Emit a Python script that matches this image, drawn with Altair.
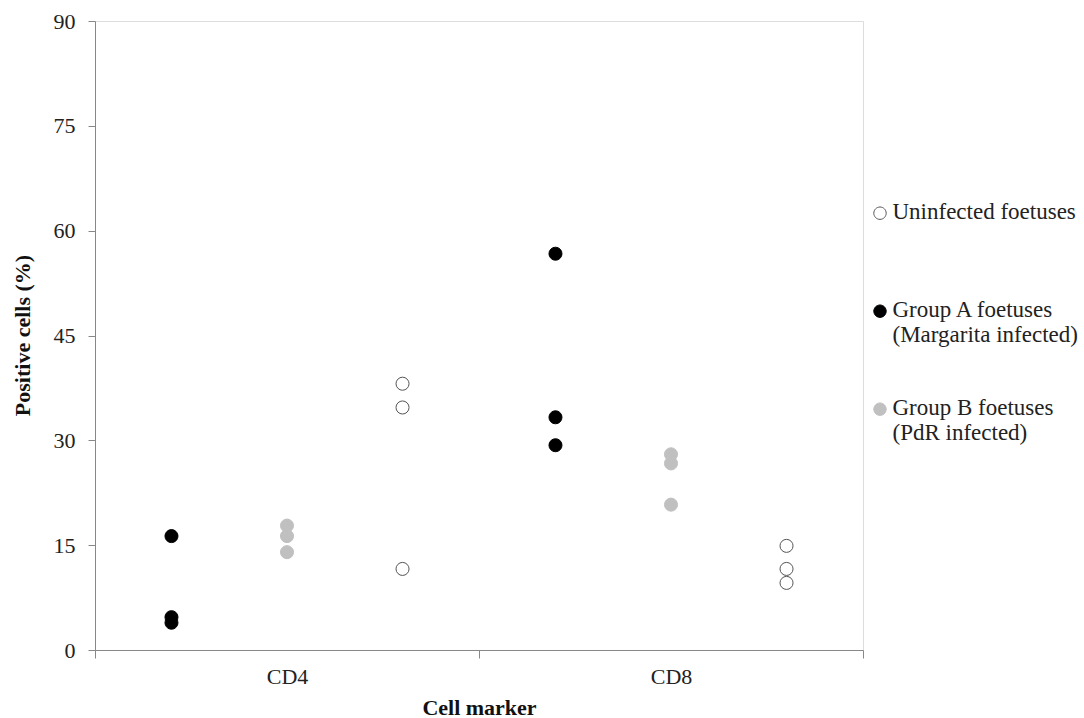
import altair as alt
import pandas as pd

# ---- data ----
markers = ["CD4", "CD8"]
groups = [
    "Group A foetuses (Margarita infected)",
    "Group B foetuses (PdR infected)",
    "Uninfected foetuses",
]
legend_order = [
    "Uninfected foetuses",
    "Group A foetuses (Margarita infected)",
    "Group B foetuses (PdR infected)",
]
fill_colors = ["#ffffff", "#000000", "#c0c0c0"]
stroke_colors = ["#555555", "#000000", "#c0c0c0"]

cd4_group_a = [16.3, 4.7, 3.9]
cd4_group_b = [17.8, 16.3, 14.0]
cd4_uninfected = [38.1, 34.7, 11.6]
cd8_group_a = [56.7, 33.3, 29.3]
cd8_group_b = [28.0, 26.7, 20.8]
cd8_uninfected = [14.9, 11.6, 9.6]

y_ticks = [0, 15, 30, 45, 60, 75, 90]

series = {
    ("CD4", groups[0]): cd4_group_a,
    ("CD4", groups[1]): cd4_group_b,
    ("CD4", groups[2]): cd4_uninfected,
    ("CD8", groups[0]): cd8_group_a,
    ("CD8", groups[1]): cd8_group_b,
    ("CD8", groups[2]): cd8_uninfected,
}
rows = []
for (m, g), vals in series.items():
    for v in vals:
        rows.append({"marker": m, "group": g, "value": v})
df = pd.DataFrame(rows)

FONT = "Liberation Serif"

# legend circle, drawn slightly raised so it sits level with the first text line
LEGEND_SYMBOL = "M -1.13,-0.97 A 1.13,1.13 0 1 0 1.13,-0.97 A 1.13,1.13 0 1 0 -1.13,-0.97 Z"

legend_def = alt.Legend(
    title=None,
    orient="none",
    legendX=773.5,
    legendY=186,
    padding=0,
    symbolSize=120,
    symbolStrokeWidth=1,
    symbolType=LEGEND_SYMBOL,
    labelFont=FONT,
    labelFontSize=23,
    labelColor="#222222",
    labelOffset=1,
    labelLimit=300,
    labelBaseline="alphabetic",
    labelExpr="split(replace(datum.label, ' (', '|('), '|')",
    gridAlign="all",
    rowPadding=49,
)

chart = (
    alt.Chart(df)
    .mark_circle(size=170, strokeWidth=1, opacity=1)
    .encode(
        x=alt.X(
            "marker:N",
            sort=markers,
            scale=alt.Scale(paddingInner=0, paddingOuter=0),
            axis=alt.Axis(
                title="Cell marker",
                labelAngle=0,
                tickBand="extent",
                tickSize=8,
                tickColor="#888888",
                domainColor="#888888",
                labelFont=FONT,
                labelFontSize=22,
                labelColor="#222222",
                labelPadding=8,
                titleFont=FONT,
                titleFontSize=22,
                titleFontWeight="bold",
                titleColor="#111111",
                titleX=384,
                titleY=64,
                titleBaseline="alphabetic",
                titleAnchor="middle",
                grid=False,
            ),
        ),
        xOffset=alt.XOffset(
            "group:N",
            sort=groups,
            scale=alt.Scale(domain=groups, paddingOuter=0.662),
        ),
        y=alt.Y(
            "value:Q",
            scale=alt.Scale(domain=[0, 90], nice=False),
            axis=alt.Axis(
                title="Positive cells (%)",
                values=y_ticks,
                tickSize=7,
                tickColor="#888888",
                domainColor="#888888",
                labelFont=FONT,
                labelFontSize=22,
                labelColor="#222222",
                labelPadding=13,
                titleFont=FONT,
                titleFontSize=22,
                titleFontWeight="bold",
                titleColor="#111111",
                titleX=-66,
                titleY=314,
                titleAngle=270,
                titleBaseline="alphabetic",
                titleAlign="center",
                grid=False,
            ),
        ),
        fill=alt.Fill(
            "group:N",
            scale=alt.Scale(domain=legend_order, range=fill_colors),
            legend=legend_def,
        ),
        stroke=alt.Stroke(
            "group:N",
            scale=alt.Scale(domain=legend_order, range=stroke_colors),
            legend=legend_def,
        ),
    )
    .properties(
        width=768,
        height=629,
        autosize=alt.AutoSizeParams(type="none"),
        padding={"left": 95, "top": 21, "right": 221, "bottom": 68},
    )
    .configure_view(stroke=None)
    .configure(background="white")
)

chart.save("out.html", embed_options={"renderer": "svg", "actions": False})
